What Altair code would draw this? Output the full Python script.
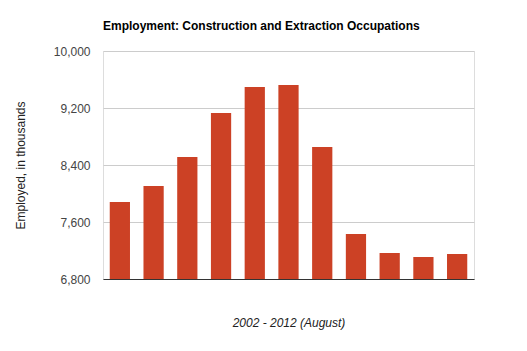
import altair as alt
import pandas as pd

years = ["2002", "2003", "2004", "2005", "2006", "2007", "2008", "2009", "2010", "2011", "2012"]
employed = [7881, 8105, 8512, 9130, 9495, 9523, 8653, 7432, 7165, 7109, 7151]

df = pd.DataFrame({"year": years, "employed": employed})

chart = alt.Chart(df).mark_bar(color="#cc4125", clip=True).encode(
    x=alt.X("year:N", sort=None,
            scale=alt.Scale(paddingInner=0.4, paddingOuter=0.2),
            axis=alt.Axis(title="2002 - 2012 (August)", labels=False, ticks=False,
                          domainColor="#333333", titleFontStyle="italic",
                          titleFontWeight="normal", titleFont="Liberation Sans",
                          titleFontSize=12, titleColor="#222222", titlePadding=38)),
    y=alt.Y("employed:Q",
            scale=alt.Scale(domain=[6800, 10000], zero=False, nice=False),
            axis=alt.Axis(title="Employed, in thousands", values=[6800, 7600, 8400, 9200, 10000],
                          format=",.0f", domain=False, ticks=False, labelPadding=13,
                          labelFont="Liberation Sans", labelFontSize=12, labelColor="#444444",
                          gridColor="#cccccc", titleFont="Liberation Sans", titleFontSize=12,
                          titleFontWeight="normal", titleColor="#222222", titlePadding=26)),
).properties(
    width=371, height=228,
    title=alt.TitleParams("Employment: Construction and Extraction Occupations",
                          anchor="start", frame="group", font="Liberation Sans", fontSize=12,
                          fontWeight="bold", color="#000000", offset=12),
    autosize=alt.AutoSizeParams(type="none"),
    padding={"left": 103, "top": 51, "right": 53, "bottom": 72},
).configure_view(stroke=None).configure(background="white")

chart.save("out.html", embed_options={"renderer": "svg", "actions": False})
